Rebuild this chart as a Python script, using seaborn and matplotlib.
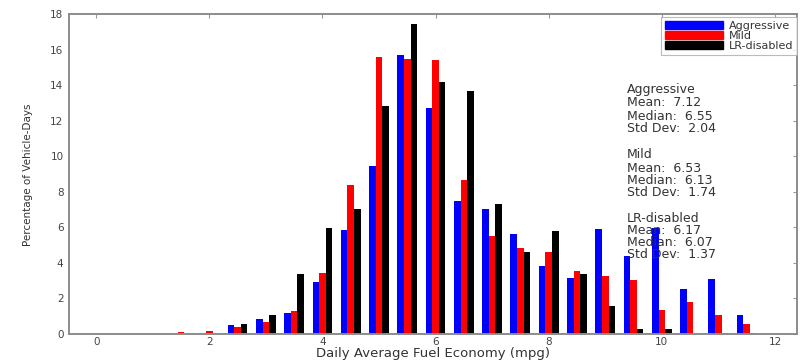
import matplotlib
matplotlib.use("Agg")
import matplotlib.pyplot as plt
import seaborn as sns
import pandas as pd
from matplotlib.patches import Patch

# ---- data ----
centers = [1.5, 2.0, 2.5, 3.0, 3.5, 4.0, 4.5, 5.0, 5.5, 6.0, 6.5,
           7.0, 7.5, 8.0, 8.5, 9.0, 9.5, 10.0, 10.5, 11.0, 11.5]
aggressive = [0, 0, 0.5, 0.85, 1.2, 2.95, 5.85, 9.45, 15.7, 12.7, 7.5,
              7.05, 5.6, 3.8, 3.15, 5.9, 4.4, 5.95, 2.55, 3.1, 1.05]
mild = [0.1, 0.15, 0.4, 0.65, 1.27, 3.45, 8.4, 15.6, 15.45, 15.4, 8.65,
        5.5, 4.85, 4.6, 3.55, 3.25, 3.05, 1.35, 1.8, 1.05, 0.55]
lr_disabled = [0, 0, 0.55, 1.05, 3.35, 5.95, 7.05, 12.8, 17.45, 14.15, 13.65,
               7.3, 4.6, 5.8, 3.35, 1.55, 0.3, 0.3, 0, 0.05, 0.03]
series_names = ["Aggressive", "Mild", "LR-disabled"]
colors = ["#0000ff", "#ff0000", "#000000"]
x_ticks = [0, 2, 4, 6, 8, 10, 12]
y_ticks = [0, 2, 4, 6, 8, 10, 12, 14, 16, 18]
stats = [
    ["Aggressive", "Mean:  7.12", "Median:  6.55", "Std Dev:  2.04"],
    ["Mild", "Mean:  6.53", "Median:  6.13", "Std Dev:  1.74"],
    ["LR-disabled", "Mean:  6.17", "Median:  6.07", "Std Dev:  1.37"],
]

df = pd.DataFrame({
    "center": centers * 3,
    "pct": aggressive + mild + lr_disabled,
    "mode": [series_names[0]] * len(centers) + [series_names[1]] * len(centers)
            + [series_names[2]] * len(centers),
})

sns.set_style("white")
plt.rcParams["font.family"] = ["DejaVu Sans"]

W, H = 805, 363
fig = plt.figure(figsize=(W / 100, H / 100), dpi=100)
L, R, T, B = 69, 797, 14, 334
ax = fig.add_axes([L / W, (H - B) / H, (R - L) / W, (B - T) / H])

palette = dict(zip(series_names, colors))
sns.barplot(data=df, x="center", y="pct", hue="mode", hue_order=series_names,
            palette=palette, native_scale=True, width=0.7, errorbar=None,
            saturation=1, linewidth=0, ax=ax, legend=False)

ax.set_xlim(-0.48, 12.39)
ax.set_ylim(0, 18)
ax.set_xticks(x_ticks)
ax.set_xticklabels([str(t) for t in x_ticks])
ax.set_yticks(y_ticks)
ax.set_yticklabels([str(t) for t in y_ticks])
ax.tick_params(direction="in", top=True, right=True, length=3, width=0.8,
               color="#999999", labelsize=7.5, labelcolor="#444444", pad=4)
ax.tick_params(axis="x", pad=2)
for s in ax.spines.values():
    s.set_visible(True)
    s.set_color("#8c8c8c")
    s.set_linewidth(1.4)

ax.set_xlabel("Daily Average Fuel Economy (mpg)", fontsize=9.5, color="#333333",
              va="top")
ax.xaxis.set_label_coords(0.5, (B - 347) / (B - T))
ax.set_ylabel("Percentage of Vehicle-Days", fontsize=7.5,
              family=["Liberation Sans Narrow", "DejaVu Sans"], color="#333333",
              va="center")
ax.yaxis.set_label_coords((28 - L) / (R - L), (B - 175) / (B - T))

handles = [Patch(facecolor=c, edgecolor=c) for c in colors]
leg = ax.legend(handles, series_names, loc="upper right",
                bbox_to_anchor=(1.0, (B - 17) / (B - T)), fontsize=8,
                handlelength=5.2, handleheight=0.7, labelspacing=0.0,
                handletextpad=0.5, borderpad=0.35, borderaxespad=0.0,
                frameon=True, fancybox=False)
leg.get_frame().set_edgecolor("#aaaaaa")
leg.get_frame().set_linewidth(0.8)
for t in leg.get_texts():
    t.set_color("#333333")

# stats text blocks
line_y = [[90, 103, 116, 128], [155, 168, 180, 193], [219, 231, 243, 255]]
for block, ys in zip(stats, line_y):
    for txt, py in zip(block, ys):
        ax.text((627 - L) / (R - L), (B - py) / (B - T), txt,
                transform=ax.transAxes, fontsize=9, color="#333333",
                va="center", ha="left")

fig.savefig("out.png", dpi=100)
